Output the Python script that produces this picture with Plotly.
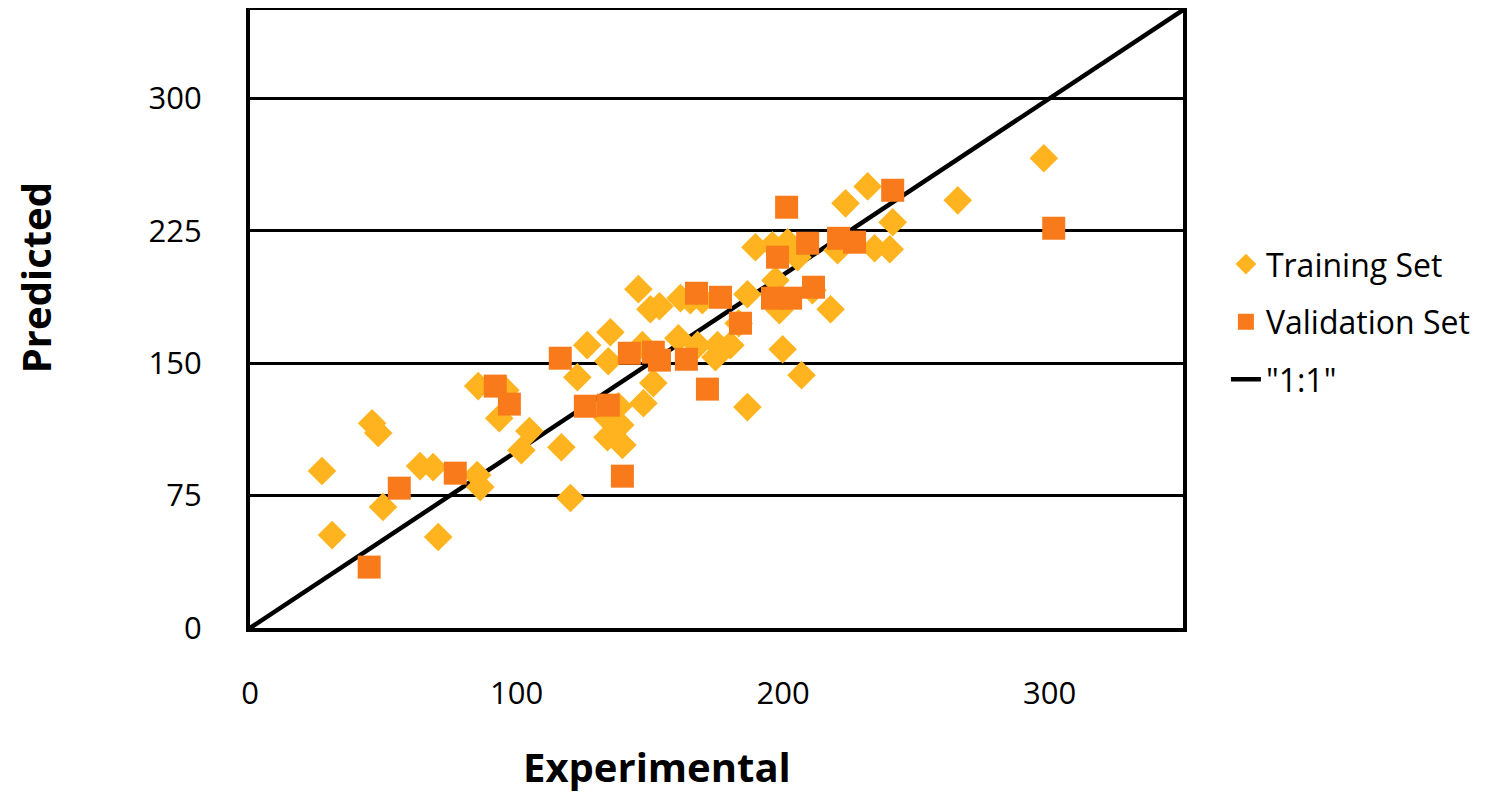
import plotly.graph_objects as go

train_x = [27.0, 30.8, 45.8, 48.1, 49.9, 63.8, 68.7, 70.6, 85.6, 85.2, 86.4, 93.5, 95.8, 101.8,
           104.8, 116.8, 120.2, 122.8, 126.5, 134.4, 135.2, 134.1, 134.1, 138.9, 139.7, 138.2,
           145.7, 147.6, 150.2, 153.6, 151.3, 147.2, 160.7, 161.5, 165.2, 167.9, 169.7, 174.6,
           175.4, 180.2, 183.3, 186.6, 186.6, 189.6, 196.0, 197.1, 198.6, 201.7, 205.4, 199.8,
           206.9, 211.0, 217.8, 220.4, 223.4, 231.7, 234.3, 240.0, 241.1, 265.5, 297.8]
train_y = [88.9, 52.6, 116.0, 110.4, 68.5, 91.7, 91.1, 51.5, 137.0, 86.6, 79.8, 118.8, 134.7, 100.7,
           111.5, 102.4, 73.6, 142.0, 160.2, 151.1, 167.5, 118.8, 108.1, 114.9, 103.6, 125.6,
           191.9, 127.3, 180.5, 182.2, 138.7, 160.2, 164.1, 186.8, 185.6, 160.2, 185.6, 153.4,
           160.2, 160.2, 172.6, 189.0, 125.1, 215.6, 216.8, 196.9, 180.0, 218.5, 210.0, 157.9,
           143.2, 191.3, 180.5, 213.9, 240.5, 250.1, 215.1, 214.5, 229.8, 242.2, 266.0]

valid_x = [44.7, 56.0, 77.0, 92.0, 97.3, 116.4, 125.8, 134.4, 139.7, 142.3, 151.3, 153.6, 163.7,
           167.5, 171.6, 176.5, 184.0, 196.0, 197.9, 201.3, 202.8, 209.2, 211.4, 220.8, 226.8,
           241.1, 301.5]
valid_y = [34.5, 79.2, 87.7, 137.0, 126.8, 152.8, 125.6, 126.2, 86.0, 155.6, 156.2, 151.7, 152.2,
           189.6, 135.3, 187.3, 172.6, 186.8, 210.0, 238.3, 186.8, 217.9, 193.0, 220.7, 218.5,
           247.9, 226.4]

line_x = [0, 350]
line_y = [0, 350]

x_ticks = [0, 100, 200, 300]
y_ticks = [0, 75, 150, 225, 300]

FONT = "Open Sans"

fig = go.Figure()
fig.add_trace(go.Scatter(x=line_x, y=line_y, mode="lines", name='"1:1"',
                         line=dict(color="black", width=4.5), legendrank=3, legendgroup="c"))
fig.add_trace(go.Scatter(x=train_x, y=train_y, mode="markers", name="Training Set",
                         marker=dict(symbol="diamond", size=22, color="#FFB41F"),
                         legendrank=1, legendgroup="a"))
fig.add_trace(go.Scatter(x=valid_x, y=valid_y, mode="markers", name="Validation Set",
                         marker=dict(symbol="square", size=23, color="#F97A1A"),
                         legendrank=2, legendgroup="b"))

fig.update_layout(
    width=1489, height=787,
    margin=dict(l=242, r=314, t=2, b=167),
    paper_bgcolor="white", plot_bgcolor="white",
    font=dict(family=FONT, size=31, color="black"),
    legend=dict(x=1.046, y=0.633, xanchor="left", yanchor="top",
                font=dict(size=32), tracegroupgap=13, bgcolor="rgba(0,0,0,0)"),
    xaxis=dict(range=[0, 350], tickvals=x_ticks, showgrid=False, zeroline=False,
               showline=True, linecolor="black", linewidth=4, mirror=True,
               ticks="", ticklabelstandoff=35, automargin=False),
    yaxis=dict(range=[0, 350], tickvals=y_ticks, showgrid=True, gridcolor="black", gridwidth=2.5,
               zeroline=False, showline=True, linecolor="black", linewidth=4, mirror=True,
               ticks="", ticklabelstandoff=38, automargin=False),
    annotations=[
        dict(text="<b>Experimental</b>", xref="paper", yref="paper", x=0.436, y=-0.2249,
             xanchor="center", yanchor="middle", showarrow=False, font=dict(size=40)),
        dict(text="<b>Predicted</b>", xref="paper", yref="paper", x=-0.2304, y=0.566,
             xanchor="center", yanchor="middle", showarrow=False, textangle=-90,
             font=dict(size=40)),
    ],
)

fig.write_html("out.html")
